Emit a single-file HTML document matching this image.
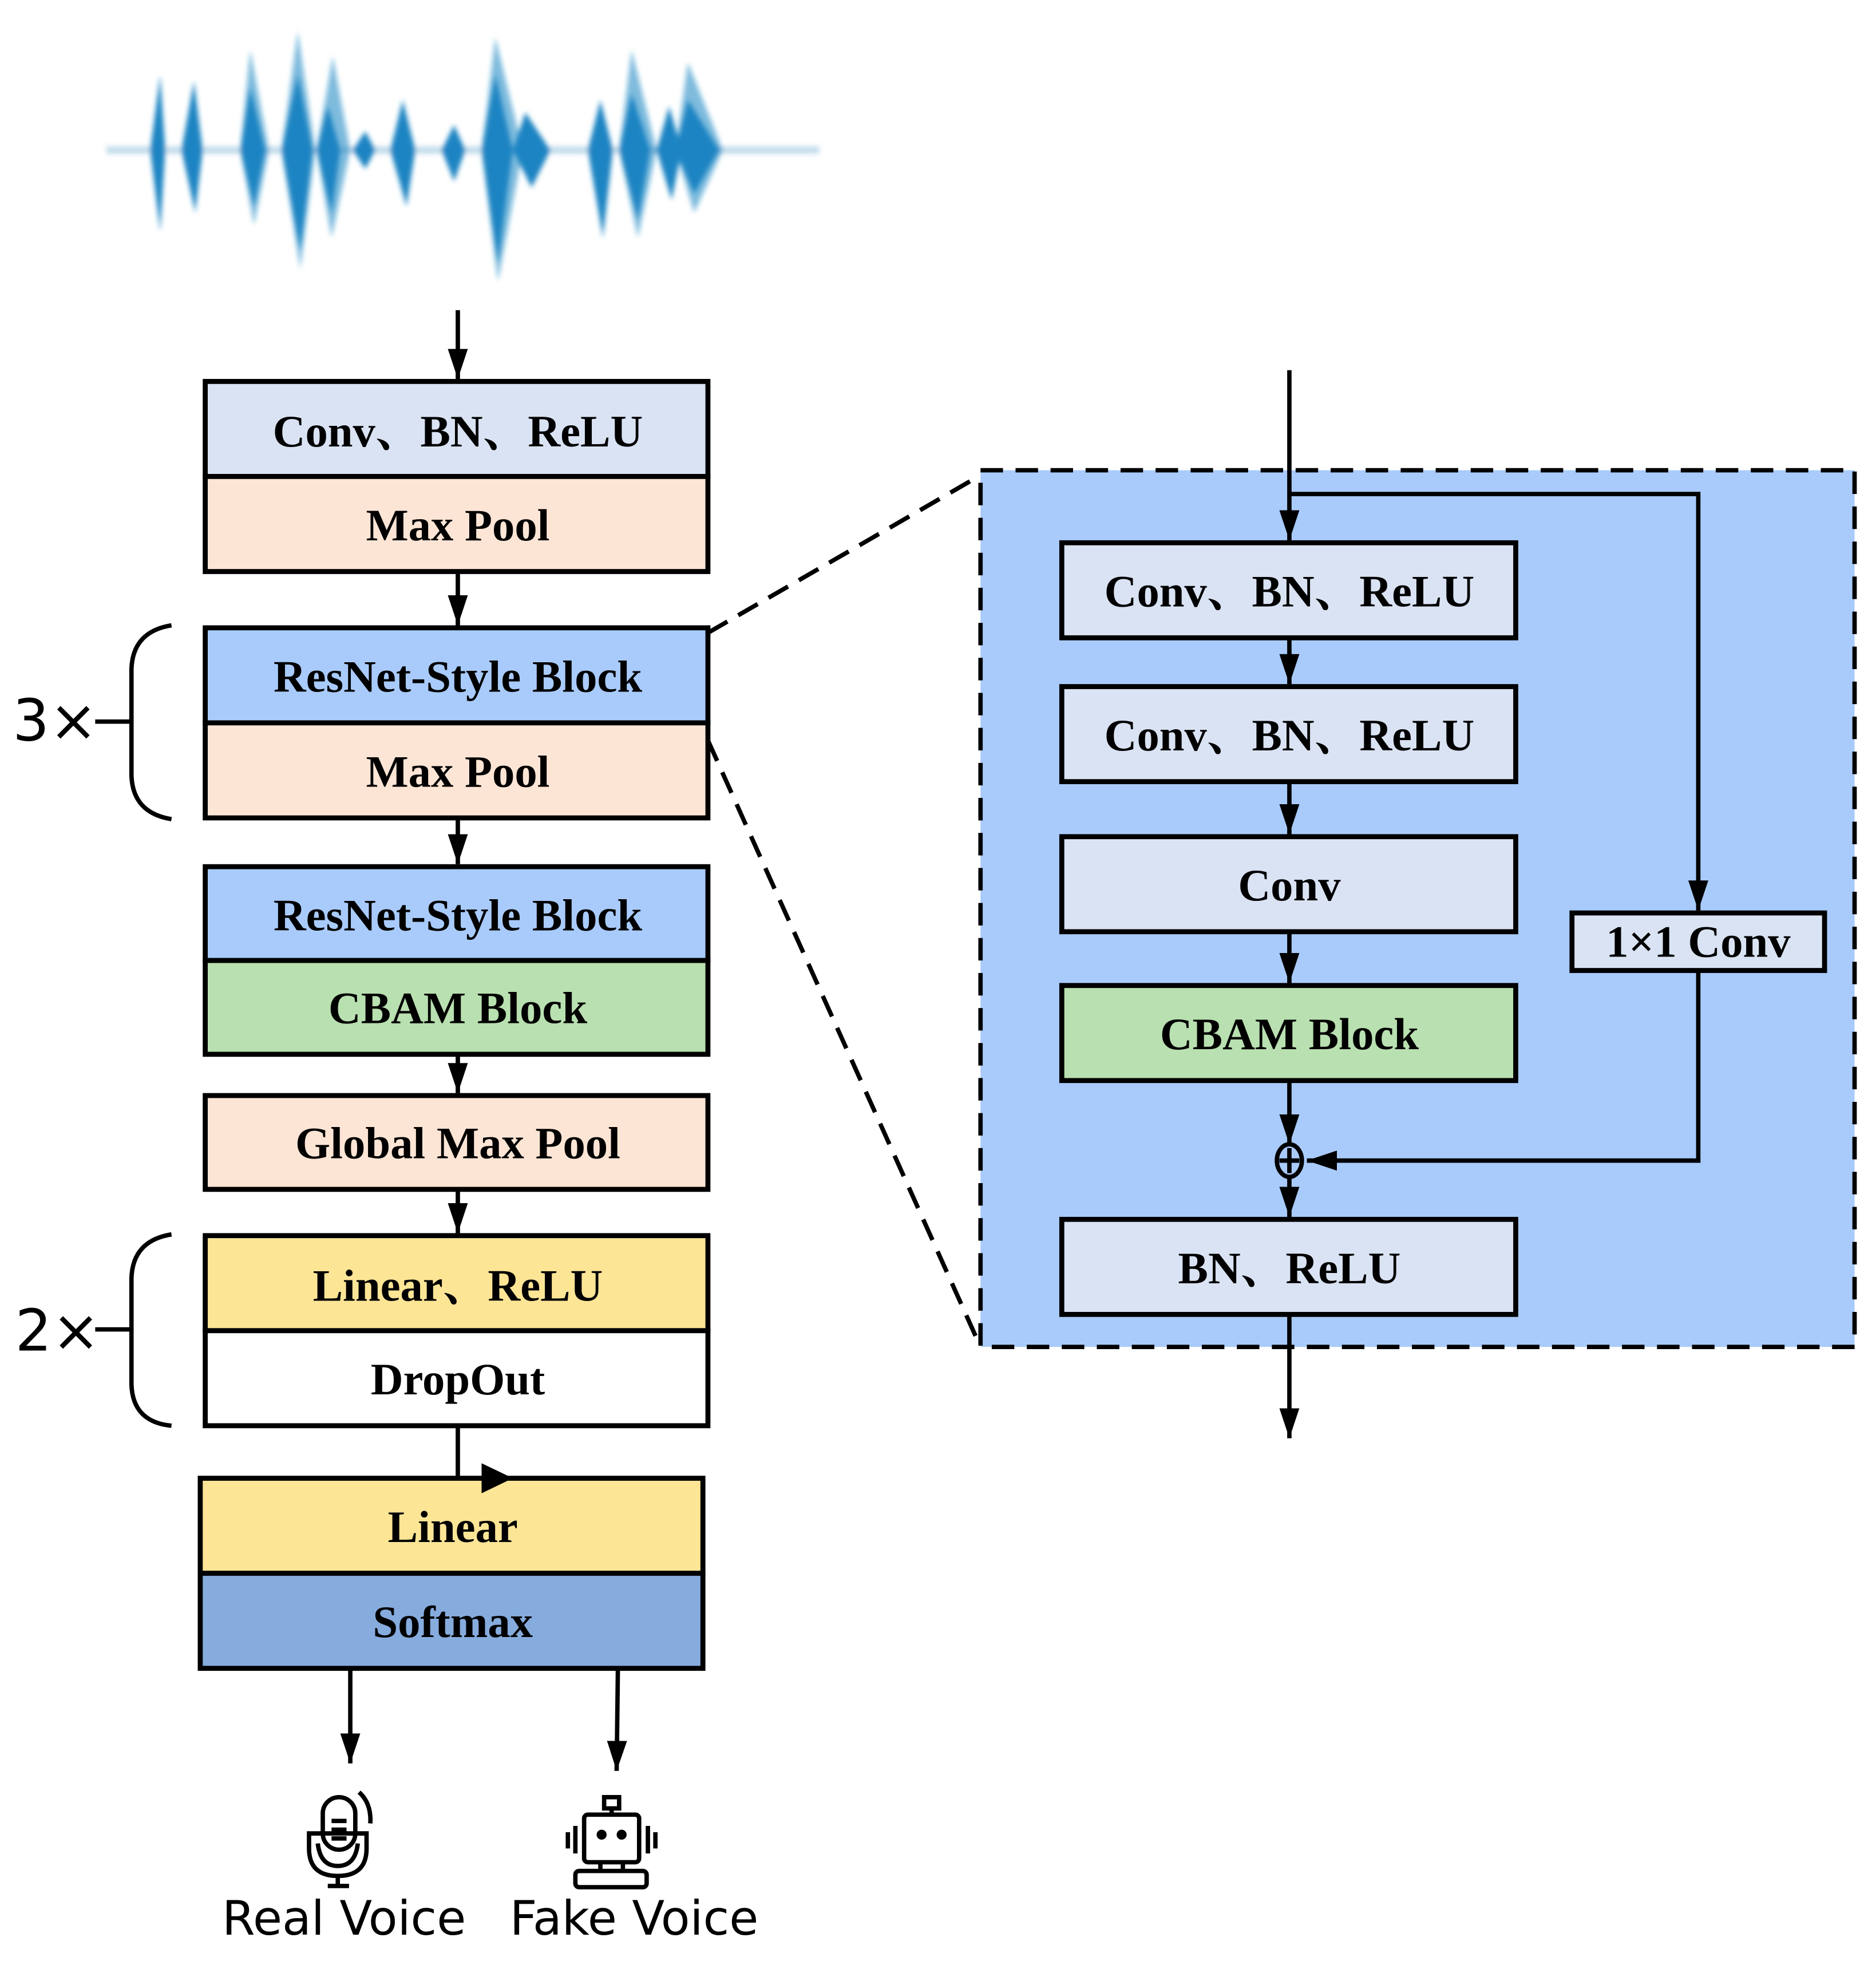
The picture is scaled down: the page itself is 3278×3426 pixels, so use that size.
<!DOCTYPE html>
<html><head><meta charset="utf-8"><style>
html,body{margin:0;padding:0;background:#fff}
svg{display:block}
.t{font-family:"Liberation Serif","Noto Serif CJK SC",serif;font-weight:bold;font-size:36px;text-anchor:middle;fill:#000}
.s{font-family:"DejaVu Sans","Liberation Sans",sans-serif;fill:#000}
.b{stroke:#000;stroke-width:4}
.l{stroke:#000;stroke-width:3.5;fill:none}
</style></head><body>
<svg width="3278" height="3426" viewBox="0 0 1500 1568" xmlns="http://www.w3.org/2000/svg">
<defs>
<marker id="A" viewBox="0 0 24 16" refX="24" refY="8" markerWidth="24" markerHeight="16" markerUnits="userSpaceOnUse" orient="auto"><path d="M0,0 L24,8 L0,16 Z" fill="#000"/></marker>
<filter id="bl"><feGaussianBlur stdDeviation="2"/></filter>
</defs>
<!-- waveform -->
<g fill="#1a84c2" filter="url(#bl)">
<rect x="85" y="117" width="570" height="6" fill="#9cc6e0" opacity="0.6"/>
<g opacity="0.55">
<path d="M192,120 L200,40 L215,120 L203,180 Z"/>
<path d="M225,120 L238,25 L252,120 L240,215 Z"/>
<path d="M253,120 L266,45 L280,120 L265,190 Z"/>
<path d="M385,120 L396,30 L418,120 L398,225 Z"/>
<path d="M495,120 L505,40 L525,120 L510,190 Z"/>
<path d="M540,120 L550,50 L578,120 L555,170 Z"/>
</g>
<path d="M120,120 L128,60 L132,120 L128,185 Z"/>
<path d="M145,120 L155,65 L162,120 L156,170 Z"/>
<path d="M192,120 L200,70 L212,120 L203,165 Z"/>
<path d="M225,120 L238,60 L250,120 L240,200 Z"/>
<path d="M253,120 L262,85 L272,120 L265,170 Z"/>
<path d="M282,120 L292,105 L300,120 L292,135 Z"/>
<path d="M312,120 L322,80 L332,120 L325,165 Z"/>
<path d="M353,120 L363,100 L372,120 L363,145 Z"/>
<path d="M385,120 L396,60 L410,120 L398,210 Z"/>
<path d="M410,120 L420,90 L440,120 L425,150 Z"/>
<path d="M470,120 L480,80 L490,120 L482,190 Z"/>
<path d="M495,120 L505,75 L520,120 L510,175 Z"/>
<path d="M525,120 L535,85 L545,120 L537,160 Z"/>
<path d="M540,120 L550,80 L575,120 L555,155 Z"/>
</g>
<!-- left column -->
<line class="l" x1="366" y1="248" x2="366" y2="303" marker-end="url(#A)"/>
<rect class="b" x="164" y="305" width="402" height="76" fill="#dae3f3"/>
<rect class="b" x="164" y="381" width="402" height="76" fill="#fde5d5"/>
<text class="t" x="366" y="357">Conv、BN、ReLU</text>
<text class="t" x="366" y="432">Max Pool</text>
<line class="l" x1="366" y1="457" x2="366" y2="500" marker-end="url(#A)"/>
<rect class="b" x="164" y="502" width="402" height="76" fill="#a9cbfb"/>
<rect class="b" x="164" y="578" width="402" height="76" fill="#fde5d5"/>
<text class="t" x="366" y="553">ResNet-Style Block</text>
<text class="t" x="366" y="629">Max Pool</text>
<line class="l" x1="366" y1="654" x2="366" y2="691" marker-end="url(#A)"/>
<rect class="b" x="164" y="693" width="402" height="75" fill="#a9cbfb"/>
<rect class="b" x="164" y="768" width="402" height="75" fill="#b9e0b0"/>
<text class="t" x="366" y="744">ResNet-Style Block</text>
<text class="t" x="366" y="818">CBAM Block</text>
<line class="l" x1="366" y1="843" x2="366" y2="874" marker-end="url(#A)"/>
<rect class="b" x="164" y="876" width="402" height="75" fill="#fde5d5"/>
<text class="t" x="366" y="926">Global Max Pool</text>
<line class="l" x1="366" y1="951" x2="366" y2="986" marker-end="url(#A)"/>
<rect class="b" x="164" y="988" width="402" height="76" fill="#fde596"/>
<rect class="b" x="164" y="1064" width="402" height="76" fill="#ffffff"/>
<text class="t" x="366" y="1040">Linear、ReLU</text>
<text class="t" x="366" y="1115">DropOut</text>
<polyline class="l" points="366,1140 366,1182 395,1182"/>
<rect class="b" x="160" y="1182" width="402" height="76" fill="#fde596"/>
<rect class="b" x="160" y="1258" width="402" height="76" fill="#86abdd"/>
<path d="M385,1170 L410,1182 L385,1194 Z" fill="#000"/>
<text class="t" x="362" y="1233">Linear</text>
<text class="t" x="362" y="1309">Softmax</text>
<line class="l" x1="280" y1="1334" x2="280" y2="1410" marker-end="url(#A)"/>
<line class="l" x1="494" y1="1334" x2="493" y2="1416" marker-end="url(#A)"/>
<!-- braces -->
<path class="l" d="M137,500 Q106,505 105,535 L105,620 Q106,650 137,655"/>
<line class="l" x1="76" y1="577" x2="105" y2="577"/>
<text class="s" x="10" y="592" font-size="46">3×</text>
<path class="l" d="M137,987 Q106,992 105,1022 L105,1107 Q106,1137 137,1140"/>
<line class="l" x1="76" y1="1063" x2="105" y2="1063"/>
<text class="s" x="12" y="1080" font-size="46">2×</text>
<!-- icons -->
<g class="l" stroke-width="3.5">
<rect x="258" y="1437" width="26" height="42" rx="13"/>
<line x1="265" y1="1456" x2="277" y2="1456"/><line x1="265" y1="1463" x2="277" y2="1463"/><line x1="265" y1="1470" x2="277" y2="1470"/>
<path d="M247,1466 L293,1466 L293,1478 Q293,1500 270,1500 Q247,1500 247,1478 Z"/>
<path d="M254,1474 Q256,1492 270,1492 Q284,1492 286,1474"/>
<path d="M287,1433 Q297,1442 296,1458"/>
<line x1="270" y1="1500" x2="270" y2="1508"/><line x1="262" y1="1508" x2="279" y2="1508"/>
<rect x="483" y="1437" width="12" height="9"/>
<line x1="489" y1="1446" x2="489" y2="1451"/>
<rect x="467" y="1451" width="44" height="38" rx="3"/>
<line x1="480" y1="1489" x2="480" y2="1496"/><line x1="498" y1="1489" x2="498" y2="1496"/>
<rect x="460" y="1496" width="57" height="13" rx="3"/>
<line x1="460" y1="1460" x2="460" y2="1482"/><line x1="454" y1="1465" x2="454" y2="1478"/>
<line x1="518" y1="1460" x2="518" y2="1482"/><line x1="524" y1="1465" x2="524" y2="1478"/>
</g>
<circle cx="481" cy="1467" r="4"/><circle cx="497" cy="1467" r="4"/>
<text class="s" x="275" y="1547" font-size="38" text-anchor="middle">Real Voice</text>
<text class="s" x="507" y="1547" font-size="38" text-anchor="middle">Fake Voice</text>
<!-- right panel -->
<line class="l" x1="566" y1="506" x2="784" y2="380" stroke-dasharray="18,10"/>
<line class="l" x1="566" y1="592" x2="784" y2="1077" stroke-dasharray="18,10"/>
<rect x="784" y="376" width="699" height="701" fill="#a9cbfb" stroke="#000" stroke-width="3.5" stroke-dasharray="18,10"/>
<line class="l" x1="1031" y1="296" x2="1031" y2="432" marker-end="url(#A)"/>
<polyline class="l" points="1031,395 1358,395 1358,728" marker-end="url(#A)"/>
<rect class="b" x="849" y="434" width="363" height="76" fill="#dae3f3"/>
<text class="t" x="1031" y="485">Conv、BN、ReLU</text>
<line class="l" x1="1031" y1="510" x2="1031" y2="547" marker-end="url(#A)"/>
<rect class="b" x="849" y="549" width="363" height="76" fill="#dae3f3"/>
<text class="t" x="1031" y="600">Conv、BN、ReLU</text>
<line class="l" x1="1031" y1="625" x2="1031" y2="667" marker-end="url(#A)"/>
<rect class="b" x="849" y="669" width="363" height="76" fill="#dae3f3"/>
<text class="t" x="1031" y="720">Conv</text>
<line class="l" x1="1031" y1="745" x2="1031" y2="786" marker-end="url(#A)"/>
<rect class="b" x="849" y="788" width="363" height="76" fill="#b9e0b0"/>
<text class="t" x="1031" y="839">CBAM Block</text>
<rect class="b" x="1257" y="730" width="202" height="46" fill="#dae3f3"/>
<text class="t" x="1358" y="765">1×1 Conv</text>
<line class="l" x1="1031" y1="864" x2="1031" y2="915" marker-end="url(#A)"/>
<polyline class="l" points="1358,776 1358,928 1045,928" marker-end="url(#A)"/>
<ellipse cx="1031" cy="928" rx="10" ry="13" fill="none" stroke="#000" stroke-width="3.5"/>
<line class="l" x1="1031" y1="918" x2="1031" y2="938"/><line class="l" x1="1023" y1="928" x2="1039" y2="928"/>
<line class="l" x1="1031" y1="941" x2="1031" y2="973" marker-end="url(#A)"/>
<rect class="b" x="849" y="975" width="363" height="76" fill="#dae3f3"/>
<text class="t" x="1031" y="1026">BN、ReLU</text>
<line class="l" x1="1031" y1="1051" x2="1031" y2="1150" marker-end="url(#A)"/>
</svg>
</body></html>
